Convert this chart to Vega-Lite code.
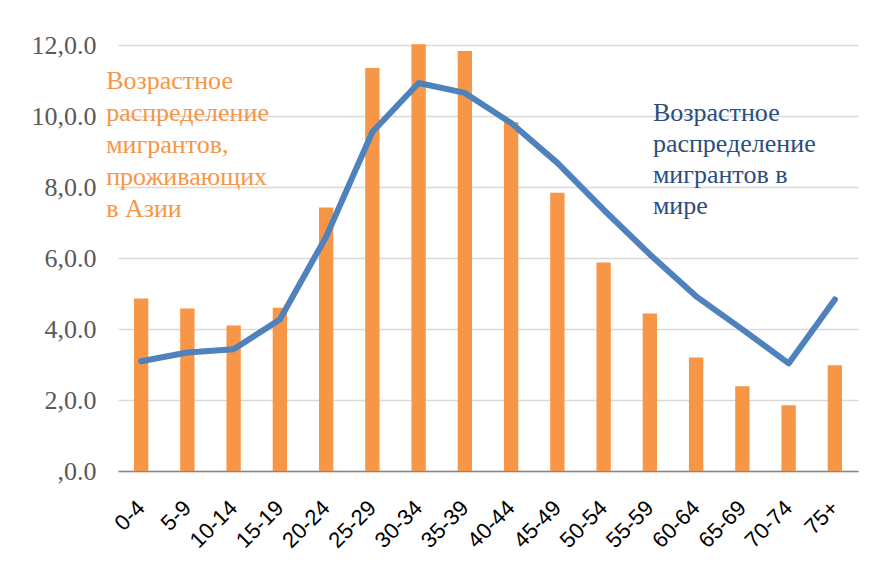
{
  "$schema": "https://vega.github.io/schema/vega-lite/v6.json",
  "autosize": "none",
  "width": 740,
  "height": 426,
  "padding": {"left": 118, "top": 45, "right": 14, "bottom": 98},
  "background": "white",
  "config": {"view": {"stroke": null}},
  "datasets": {
    "main": [
      {"age": "0-4", "asia": 4.86, "world": 3.09},
      {"age": "5-9", "asia": 4.58, "world": 3.34},
      {"age": "10-14", "asia": 4.1, "world": 3.43},
      {"age": "15-19", "asia": 4.6, "world": 4.27},
      {"age": "20-24", "asia": 7.42, "world": 6.6},
      {"age": "25-29", "asia": 11.35, "world": 9.55},
      {"age": "30-34", "asia": 12.02, "world": 10.93},
      {"age": "35-39", "asia": 11.83, "world": 10.65},
      {"age": "40-44", "asia": 9.83, "world": 9.8},
      {"age": "45-49", "asia": 7.84, "world": 8.68},
      {"age": "50-54", "asia": 5.87, "world": 7.36},
      {"age": "55-59", "asia": 4.44, "world": 6.1},
      {"age": "60-64", "asia": 3.2, "world": 4.92},
      {"age": "65-69", "asia": 2.39, "world": 3.99},
      {"age": "70-74", "asia": 1.85, "world": 3.03},
      {"age": "75+", "asia": 2.98, "world": 4.83}
    ],
    "notes": [
      {"age": "0-4", "y": 11.36, "text": "Возрастное\nраспределение\nмигрантов,\nпроживающих\nв Азии", "series": "asia"},
      {"age": "55-59", "y": 10.46, "text": "Возрастное\nраспределение\nмигрантов в\nмире", "series": "world"}
    ]
  },
  "data": {"name": "main"},
  "encoding": {
    "x": {
      "field": "age", "type": "nominal", "sort": null,
      "scale": {"paddingInner": 0.69, "paddingOuter": 0.345},
      "axis": {
        "title": null, "labelAngle": -45, "labelAlign": "right", "labelBaseline": "middle",
        "labelFont": "Liberation Sans", "labelFontSize": 22, "labelColor": "#000000",
        "labelPadding": 33, "ticks": false, "domainColor": "#868686", "domainWidth": 1.5,
        "grid": false
      }
    }
  },
  "layer": [
    {
      "mark": {"type": "bar", "color": "#F79646"},
      "encoding": {
        "y": {
          "field": "asia", "type": "quantitative",
          "scale": {"domain": [0, 12], "nice": false},
          "axis": {
            "title": null, "values": [0, 2, 4, 6, 8, 10, 12],
            "labelExpr": "datum.value == 0 ? ',0.0' : datum.value + ',0.0'",
            "labelFont": "Liberation Serif", "labelFontSize": 26, "labelColor": "#595959",
            "labelPadding": 22, "ticks": false, "domain": false,
            "gridColor": "#D9D9D9", "gridWidth": 1.5
          }
        }
      }
    },
    {
      "mark": {"type": "line", "color": "#4F81BD", "strokeWidth": 6, "strokeCap": "round", "strokeJoin": "round"},
      "encoding": {
        "y": {"field": "world", "type": "quantitative"}
      }
    },
    {
      "data": {"name": "notes"},
      "transform": [{"filter": "datum.series == 'asia'"}],
      "mark": {"type": "text", "align": "left", "baseline": "top", "font": "Liberation Serif", "fontSize": 26, "lineHeight": 32, "lineBreak": "\n", "color": "#F79646", "dx": -35},
      "encoding": {
        "x": {"field": "age", "type": "nominal", "sort": null},
        "y": {"field": "y", "type": "quantitative"},
        "text": {"field": "text"}
      }
    },
    {
      "data": {"name": "notes"},
      "transform": [{"filter": "datum.series == 'world'"}],
      "mark": {"type": "text", "align": "left", "baseline": "top", "font": "Liberation Serif", "fontSize": 26, "lineHeight": 31, "lineBreak": "\n", "color": "#2C4D80", "dx": 3},
      "encoding": {
        "x": {"field": "age", "type": "nominal", "sort": null},
        "y": {"field": "y", "type": "quantitative"},
        "text": {"field": "text"}
      }
    }
  ]
}
